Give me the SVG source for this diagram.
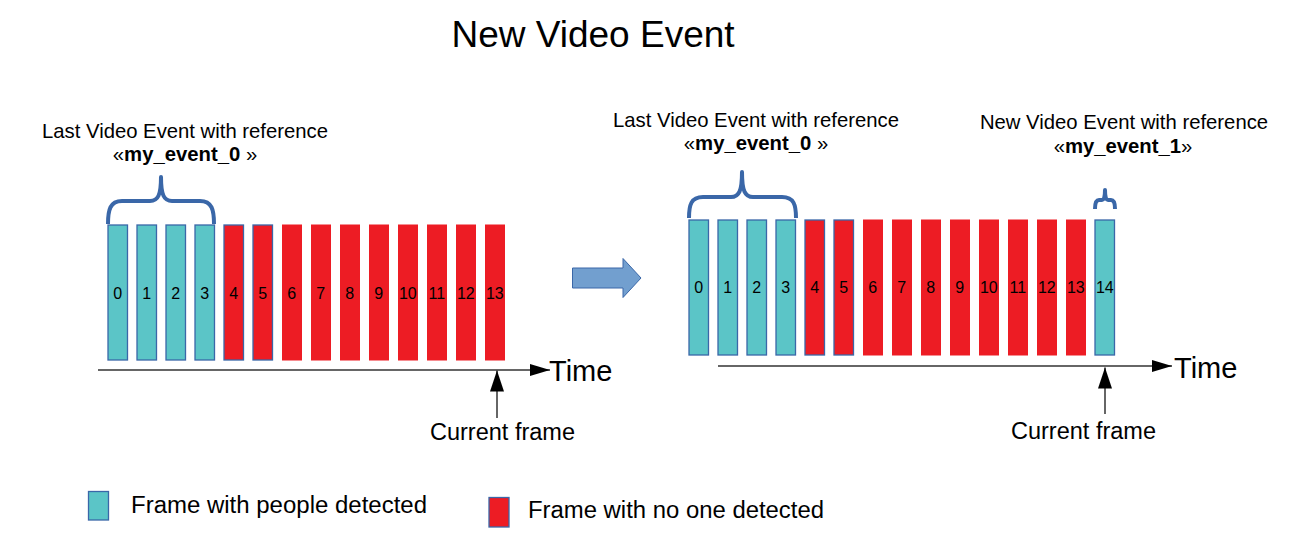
<svg xmlns="http://www.w3.org/2000/svg" width="1309" height="547" viewBox="0 0 1309 547">
<style>
text{font-family:"Liberation Sans",Arial,sans-serif;fill:#000}
.cy{fill:#5bc5c7;stroke:#3a67a8;stroke-width:1.3}
.rd{fill:#ed1c24;stroke:none}
.rdb{fill:#ed1c24;stroke:#3a67a8;stroke-width:1.3}
.num{font-size:16px;text-anchor:middle}
.lbl{font-size:20.3px;text-anchor:middle}
.brace{fill:none;stroke:#3a67a8;stroke-width:4;stroke-linejoin:round}
.axis{stroke:#333;stroke-width:1.5;fill:none}
.head{fill:#000}
</style>
<defs>
<marker id="tarrow" markerUnits="userSpaceOnUse" markerWidth="22" markerHeight="14" refX="20" refY="7" orient="auto">
<path d="M0,1 L20,7 L0,13 Z" fill="#000"/>
</marker>
<marker id="carrow" markerUnits="userSpaceOnUse" markerWidth="22" markerHeight="16" refX="21" refY="8" orient="auto">
<path d="M0,1 L21,8 L0,15 Z" fill="#000"/>
</marker>
</defs>

<text x="593" y="47" font-size="37" text-anchor="middle">New Video Event</text>

<g id="left-label">
<text class="lbl" x="185" y="138">Last Video Event with reference</text>
<text class="lbl" x="185" y="161">«<tspan font-weight="bold">my_event_0</tspan> »</text>
</g>
<g id="right-label-0">
<text class="lbl" x="756" y="127">Last Video Event with reference</text>
<text class="lbl" x="756" y="150">«<tspan font-weight="bold">my_event_0</tspan> »</text>
</g>
<g id="right-label-1">
<text class="lbl" x="1124" y="129">New Video Event with reference</text>
<text class="lbl" x="1123" y="153">«<tspan font-weight="bold">my_event_1</tspan>»</text>
</g>

<g id="braces">
<path class="brace" d="M108,224 C108,210 110,201 122,201 L150,201 C158,201 161,195 161,177 C161,195 164,201 172,201 L200,201 C212,201 214,210 214,224"/>
<path class="brace" d="M689,218 C689,205 691,197 703,197 L731,197 C739,197 742,191 742,172 C742,191 745,197 753,197 L782,197 C794,197 796,205 796,218"/>
<path class="brace" d="M1095,209 C1095,203 1096,200 1099,200 L1102,200 C1104,200 1105,197 1105,190 C1105,197 1106,200 1108,200 L1111,200 C1114,200 1115,203 1115,209"/>
</g>

<g id="left-frames">
<g id="L0"><rect class="cy" x="108" y="225" width="19.5" height="135"/><text class="num" x="117.8" y="298.5">0</text></g>
<g id="L1"><rect class="cy" x="137" y="225" width="19.5" height="135"/><text class="num" x="146.8" y="298.5">1</text></g>
<g id="L2"><rect class="cy" x="166" y="225" width="19.5" height="135"/><text class="num" x="175.8" y="298.5">2</text></g>
<g id="L3"><rect class="cy" x="195" y="225" width="19.5" height="135"/><text class="num" x="204.8" y="298.5">3</text></g>
<g id="L4"><rect class="rdb" x="224" y="225" width="19.5" height="135"/><text class="num" x="233.8" y="298.5">4</text></g>
<g id="L5"><rect class="rdb" x="253" y="225" width="19.5" height="135"/><text class="num" x="262.8" y="298.5">5</text></g>
<g id="L6"><rect class="rd" x="282" y="224.5" width="20" height="136"/><text class="num" x="291.8" y="298.5">6</text></g>
<g id="L7"><rect class="rd" x="311" y="224.5" width="20" height="136"/><text class="num" x="320.8" y="298.5">7</text></g>
<g id="L8"><rect class="rd" x="340" y="224.5" width="20" height="136"/><text class="num" x="349.8" y="298.5">8</text></g>
<g id="L9"><rect class="rd" x="369" y="224.5" width="20" height="136"/><text class="num" x="378.8" y="298.5">9</text></g>
<g id="L10"><rect class="rd" x="398" y="224.5" width="20" height="136"/><text class="num" x="407.8" y="298.5">10</text></g>
<g id="L11"><rect class="rd" x="427" y="224.5" width="20" height="136"/><text class="num" x="436.8" y="298.5">11</text></g>
<g id="L12"><rect class="rd" x="456" y="224.5" width="20" height="136"/><text class="num" x="465.8" y="298.5">12</text></g>
<g id="L13"><rect class="rd" x="485" y="224.5" width="20" height="136"/><text class="num" x="494.8" y="298.5">13</text></g>
</g>

<g id="right-frames">
<g id="R0"><rect class="cy" x="689" y="220" width="19.5" height="135"/><text class="num" x="698.8" y="293">0</text></g>
<g id="R1"><rect class="cy" x="718" y="220" width="19.5" height="135"/><text class="num" x="727.8" y="293">1</text></g>
<g id="R2"><rect class="cy" x="747" y="220" width="19.5" height="135"/><text class="num" x="756.8" y="293">2</text></g>
<g id="R3"><rect class="cy" x="776" y="220" width="19.5" height="135"/><text class="num" x="785.8" y="293">3</text></g>
<g id="R4"><rect class="rdb" x="805" y="220" width="19.5" height="135"/><text class="num" x="814.8" y="293">4</text></g>
<g id="R5"><rect class="rdb" x="834" y="220" width="19.5" height="135"/><text class="num" x="843.8" y="293">5</text></g>
<g id="R6"><rect class="rd" x="863" y="219.5" width="20" height="136"/><text class="num" x="872.8" y="293">6</text></g>
<g id="R7"><rect class="rd" x="892" y="219.5" width="20" height="136"/><text class="num" x="901.8" y="293">7</text></g>
<g id="R8"><rect class="rd" x="921" y="219.5" width="20" height="136"/><text class="num" x="930.8" y="293">8</text></g>
<g id="R9"><rect class="rd" x="950" y="219.5" width="20" height="136"/><text class="num" x="959.8" y="293">9</text></g>
<g id="R10"><rect class="rd" x="979" y="219.5" width="20" height="136"/><text class="num" x="988.8" y="293">10</text></g>
<g id="R11"><rect class="rd" x="1008" y="219.5" width="20" height="136"/><text class="num" x="1017.8" y="293">11</text></g>
<g id="R12"><rect class="rd" x="1037" y="219.5" width="20" height="136"/><text class="num" x="1046.8" y="293">12</text></g>
<g id="R13"><rect class="rd" x="1066" y="219.5" width="20" height="136"/><text class="num" x="1075.8" y="293">13</text></g>
<g id="R14"><rect class="cy" x="1095" y="220" width="19.5" height="135"/><text class="num" x="1104.8" y="293">14</text></g>
</g>

<g id="connectors">
<line class="axis" x1="98" y1="370" x2="550" y2="370" marker-end="url(#tarrow)"/>
<line class="axis" x1="718" y1="366" x2="1172" y2="366" marker-end="url(#tarrow)"/>
<line class="axis" x1="497" y1="418" x2="497" y2="370.5" marker-end="url(#carrow)"/>
<line class="axis" x1="1105" y1="414" x2="1105" y2="367.5" marker-end="url(#carrow)"/>
<path d="M572.5,268 L623,268 L623,258.5 L641,278 L623,297.5 L623,288 L572.5,288 Z" fill="#729fcf" stroke="#3a67a8" stroke-width="1"/>
</g>

<g id="time-labels">
<text x="549" y="381" font-size="29">Time</text>
<text x="1174" y="378" font-size="29">Time</text>
<text x="430" y="440" font-size="23.5">Current frame</text>
<text x="1011" y="439" font-size="23.5">Current frame</text>
</g>

<g id="legend">
<rect class="cy" x="88.5" y="491.5" width="20" height="28.5"/>
<text x="131" y="513" font-size="23" textLength="296" lengthAdjust="spacingAndGlyphs">Frame with people detected</text>
<rect class="rdb" x="489" y="497.5" width="20" height="29.5"/>
<text x="528" y="518" font-size="23" textLength="296" lengthAdjust="spacingAndGlyphs">Frame with no one detected</text>
</g>
</svg>
